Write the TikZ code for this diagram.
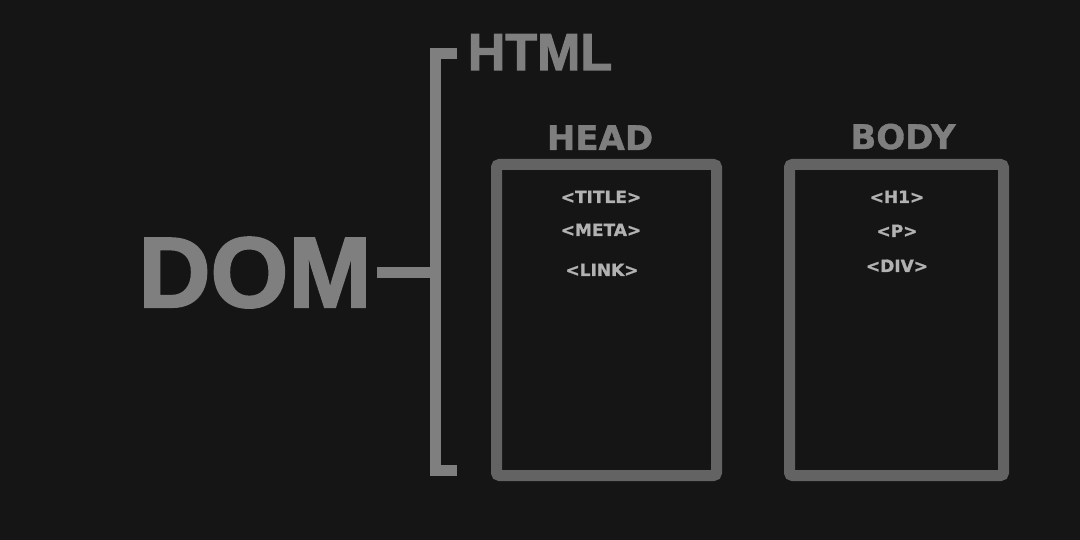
\documentclass[tikz,border=0pt]{standalone}
\usepackage{fontspec}
\setmainfont{Liberation Sans}[BoldFeatures={FakeBold=2}]
\newfontfamily\dejavu{DejaVu Sans}[BoldFeatures={FakeBold=1.2}]
\usetikzlibrary{positioning}
\definecolor{domBg}{HTML}{151515}
\definecolor{domInk}{HTML}{7F7F7F}
\definecolor{domFrame}{HTML}{636363}
\definecolor{domTag}{HTML}{B2B2B2}
\tikzset{
  big/.style={text=domInk,font=\fontsize{100}{100}\selectfont\bfseries,
              inner sep=5pt,anchor=base},
  heading/.style={text=domInk,font=\fontsize{52}{52}\selectfont\bfseries,
              inner sep=0pt,anchor=base},
  section/.style={text=domInk,font=\dejavu\fontsize{34}{34}\selectfont\bfseries,
              inner sep=0pt,anchor=base},
  frame/.style={draw=domFrame,line width=11pt,rounded corners=3pt,
              minimum height=311pt,inner sep=0pt},
  tag/.style={text=domTag,font=\dejavu\fontsize{17}{17}\selectfont\bfseries,
              inner sep=0pt,anchor=base},
  brace/.style={draw=domInk,line width=11pt},
}
\begin{document}
\begin{tikzpicture}[x=1pt,y=-1pt]
  \fill[domBg] (0,0) rectangle (1080,540);
  \node[big] (dom) at (255,307) {DOM};
  \node[heading] (html) at (540,70) {HTML};
  \node[section] (headlbl) at (600,150) {HEAD};
  \node[section] (bodylbl) at (903,149) {BODY};
  \node[frame,minimum width=220pt] (head) at (606.5,320) {};
  \node[frame,minimum width=214pt] (body) at (896.5,320) {};
  % head tags
  \node[tag] (title) at (601,203) {<TITLE>};
  \node[tag] (meta) at (601,236) {<META>};
  \node[tag] (link) at (602,276) {<LINK>};
  % body tags
  \node[tag] (hone) at (897,203) {<H1>};
  \node[tag] (para) at (897,237) {<P>};
  \node[tag] (div) at (897,272) {<DIV>};
  % bracket
  \coordinate (top) at (457,53.5);
  \coordinate (bot) at (457,470.5);
  \coordinate (spine) at (435.5,271.5);
  \draw[brace] (top) -- (top -| spine) |- (bot);
  \draw[brace] (dom.east) -- (dom.east -| spine);
\end{tikzpicture}
\end{document}
